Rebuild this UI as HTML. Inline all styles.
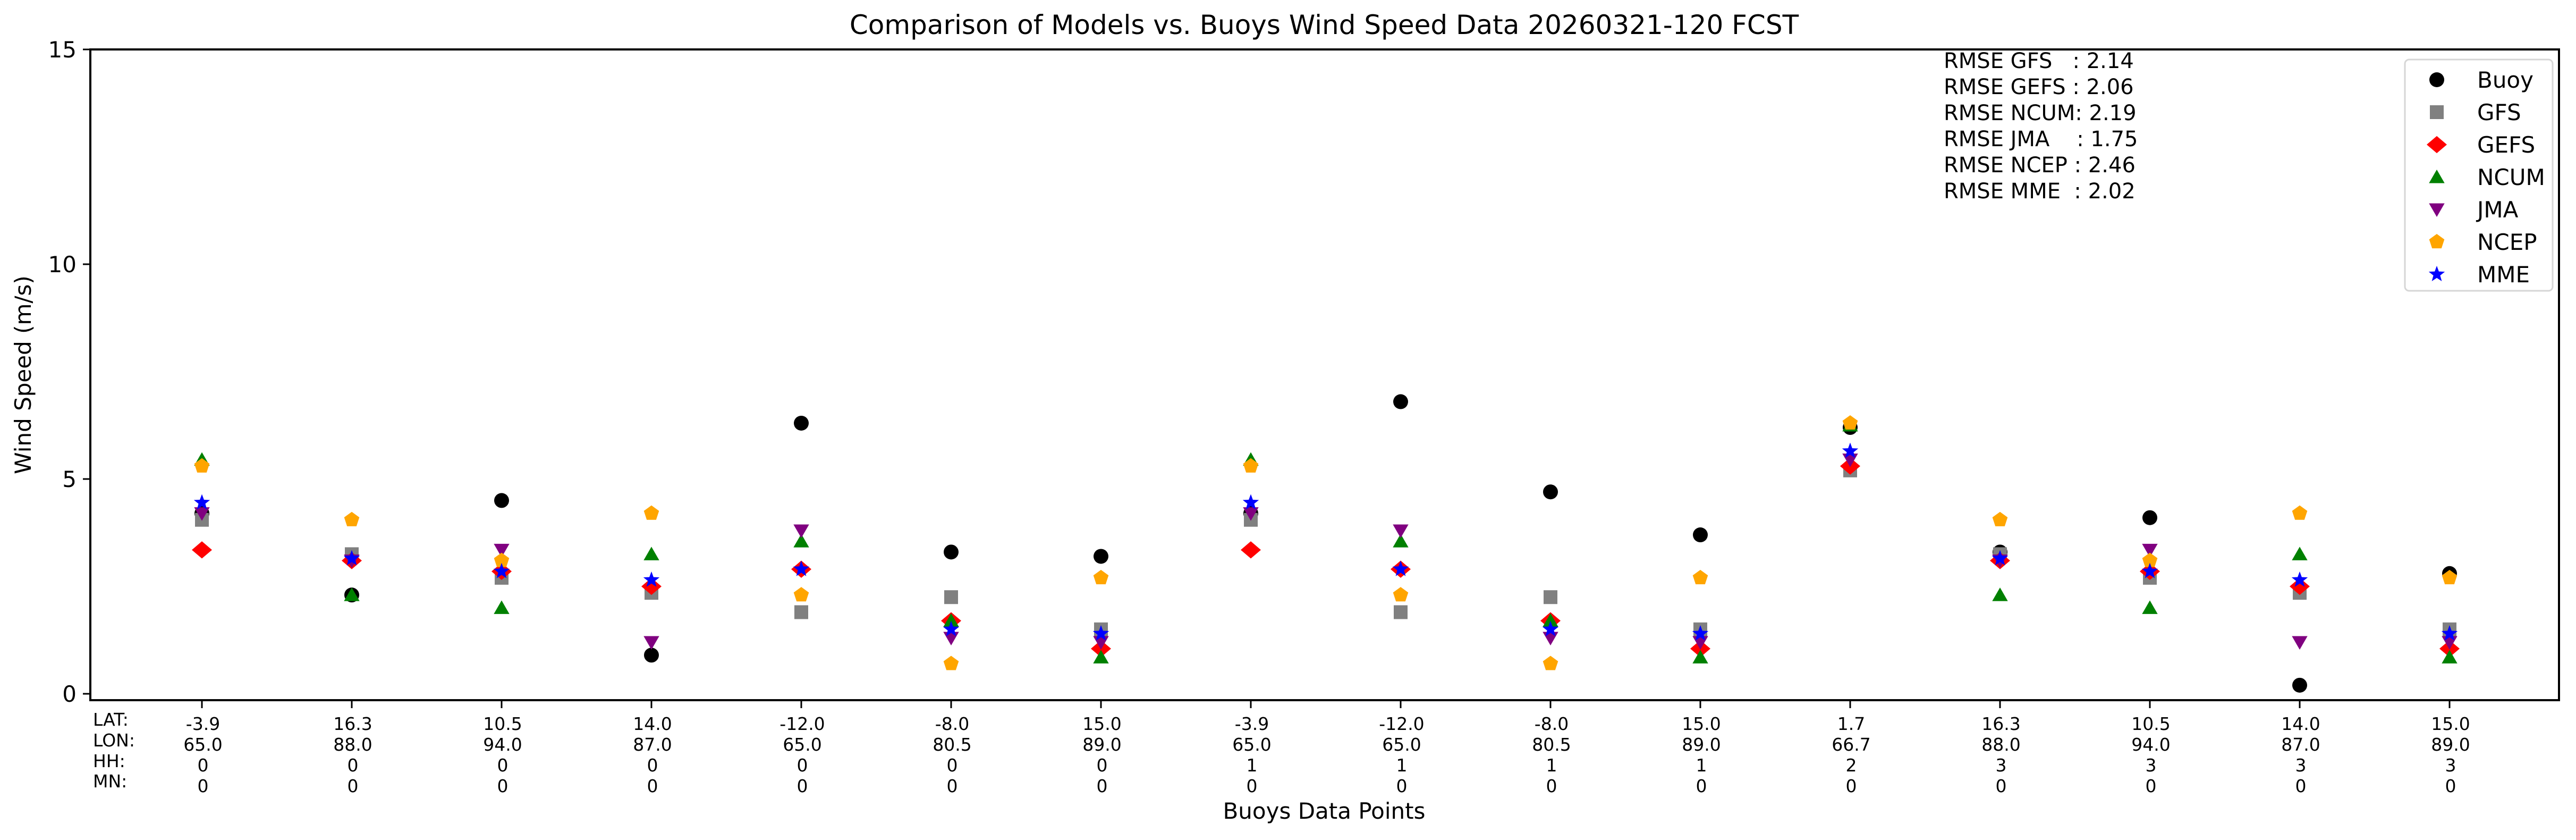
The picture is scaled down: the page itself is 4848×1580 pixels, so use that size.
<!DOCTYPE html>
<html><head><meta charset="utf-8"><style>
html,body{margin:0;padding:0;background:#fff}
svg{display:block}
text{font-family:"DejaVu Sans","Liberation Sans",sans-serif;fill:#000}
</style></head><body>
<svg id="s" width="4848" height="1580" xmlns="http://www.w3.org/2000/svg">
<rect width="4848" height="1580" fill="#fff"/>
<text x="2492" y="64" font-size="50" text-anchor="middle">Comparison of Models vs. Buoys Wind Speed Data 20260321-120 FCST</text>
<g id="marks"></g>
<rect x="170" y="93" width="4646" height="1224" fill="none" stroke="#000" stroke-width="4"/>
<g stroke="#000" stroke-width="3">
<line x1="156" y1="1305" x2="170" y2="1305"/><line x1="156" y1="901" x2="170" y2="901"/>
<line x1="156" y1="497" x2="170" y2="497"/><line x1="156" y1="93" x2="170" y2="93"/>
</g>
<g font-size="42" text-anchor="end">
<text x="144" y="1320">0</text><text x="144" y="916">5</text><text x="144" y="512">10</text><text x="144" y="108">15</text>
</g>
<text transform="translate(58,705) rotate(-90)" font-size="42" text-anchor="middle">Wind Speed (m/s)</text>
<text x="2492" y="1540" font-size="42" text-anchor="middle">Buoys Data Points</text>
<g font-size="33">
<text x="175" y="1365">LAT:</text><text x="175" y="1404">LON:</text><text x="175" y="1443">HH:</text><text x="175" y="1481">MN:</text>
</g>
<g id="ticks" stroke="#000" stroke-width="3"></g>
<g font-size="33" text-anchor="middle">
<text x="382" y="1373">-3.9</text><text x="382" y="1412">65.0</text><text x="382" y="1451">0</text><text x="382" y="1490">0</text>
<text x="664" y="1373">16.3</text><text x="664" y="1412">88.0</text><text x="664" y="1451">0</text><text x="664" y="1490">0</text>
<text x="946" y="1373">10.5</text><text x="946" y="1412">94.0</text><text x="946" y="1451">0</text><text x="946" y="1490">0</text>
<text x="1228" y="1373">14.0</text><text x="1228" y="1412">87.0</text><text x="1228" y="1451">0</text><text x="1228" y="1490">0</text>
<text x="1510" y="1373">-12.0</text><text x="1510" y="1412">65.0</text><text x="1510" y="1451">0</text><text x="1510" y="1490">0</text>
<text x="1792" y="1373">-8.0</text><text x="1792" y="1412">80.5</text><text x="1792" y="1451">0</text><text x="1792" y="1490">0</text>
<text x="2074" y="1373">15.0</text><text x="2074" y="1412">89.0</text><text x="2074" y="1451">0</text><text x="2074" y="1490">0</text>
<text x="2356" y="1373">-3.9</text><text x="2356" y="1412">65.0</text><text x="2356" y="1451">1</text><text x="2356" y="1490">0</text>
<text x="2638" y="1373">-12.0</text><text x="2638" y="1412">65.0</text><text x="2638" y="1451">1</text><text x="2638" y="1490">0</text>
<text x="2920" y="1373">-8.0</text><text x="2920" y="1412">80.5</text><text x="2920" y="1451">1</text><text x="2920" y="1490">0</text>
<text x="3202" y="1373">15.0</text><text x="3202" y="1412">89.0</text><text x="3202" y="1451">1</text><text x="3202" y="1490">0</text>
<text x="3484" y="1373">1.7</text><text x="3484" y="1412">66.7</text><text x="3484" y="1451">2</text><text x="3484" y="1490">0</text>
<text x="3766" y="1373">16.3</text><text x="3766" y="1412">88.0</text><text x="3766" y="1451">3</text><text x="3766" y="1490">0</text>
<text x="4048" y="1373">10.5</text><text x="4048" y="1412">94.0</text><text x="4048" y="1451">3</text><text x="4048" y="1490">0</text>
<text x="4330" y="1373">14.0</text><text x="4330" y="1412">87.0</text><text x="4330" y="1451">3</text><text x="4330" y="1490">0</text>
<text x="4612" y="1373">15.0</text><text x="4612" y="1412">89.0</text><text x="4612" y="1451">3</text><text x="4612" y="1490">0</text>
</g>
<g font-size="40" style="white-space:pre">
<text x="3658" y="128" xml:space="preserve">RMSE GFS   : 2.14</text>
<text x="3658" y="177" xml:space="preserve">RMSE GEFS : 2.06</text>
<text x="3658" y="226" xml:space="preserve">RMSE NCUM: 2.19</text>
<text x="3658" y="275" xml:space="preserve">RMSE JMA    : 1.75</text>
<text x="3658" y="324" xml:space="preserve">RMSE NCEP : 2.46</text>
<text x="3658" y="373" xml:space="preserve">RMSE MME  : 2.02</text>
</g>
<rect x="4526" y="112" width="278" height="435" rx="8" fill="#fff" stroke="#d6d6d6" stroke-width="3"/>
<g id="leg"></g>
<g font-size="42">
<text x="4662" y="165">Buoy</text><text x="4662" y="226">GFS</text><text x="4662" y="287">GEFS</text>
<text x="4662" y="348">NCUM</text><text x="4662" y="409">JMA</text><text x="4662" y="470">NCEP</text><text x="4662" y="531">MME</text>
</g>
</svg>
<script>
var NS="http://www.w3.org/2000/svg";
function el(p,t,a){var e=document.createElementNS(NS,t);for(var k in a)e.setAttribute(k,a[k]);p.appendChild(e);return e;}
function poly(n,r,rot,inner){var pts=[];var m=inner?2*n:n;for(var i=0;i<m;i++){var rr=inner&&i%2?r*inner:r;var a=rot+i*2*Math.PI/m;pts.push((rr*Math.sin(a)).toFixed(1)+","+(-rr*Math.cos(a)).toFixed(1));}return pts.join(" ");}
function mk(g,type,x,y){
 switch(type){
 case 0:el(g,"circle",{cx:x,cy:y,r:14,fill:"#000"});break;
 case 1:el(g,"rect",{x:x-13,y:y-13,width:26,height:26,fill:"#808080"});break;
 case 2:el(g,"polygon",{points:poly(4,19,0).split(" ").map(function(p){var q=p.split(",");return (x+ +q[0]*1.0)+","+(y+ +q[1]*0.85);}).join(" "),fill:"#ff0000"});break;
 case 3:el(g,"polygon",{points:tr(poly(3,17,0),x,y+3),fill:"#008000"});break;
 case 4:el(g,"polygon",{points:tr(poly(3,17,Math.PI),x,y-3),fill:"#800080"});break;
 case 5:el(g,"polygon",{points:tr(poly(5,15,0),x,y),fill:"#ffa500"});break;
 case 6:el(g,"polygon",{points:tr(poly(5,16,0,0.42),x,y),fill:"#0000ff"});break;
 }}
function tr(s,x,y){return s.split(" ").map(function(p){var q=p.split(",");return (x+ +q[0])+","+(y+ +q[1]);}).join(" ");}
var D=[
[4.2,4.05,3.35,5.45,4.2,5.3,4.45],
[2.3,3.25,3.1,2.3,3.1,4.05,3.15],
[4.5,2.7,2.85,2.0,3.35,3.1,2.85],
[0.9,2.35,2.5,3.25,1.2,4.2,2.65],
[6.3,1.9,2.9,3.55,3.8,2.3,2.9],
[3.3,2.25,1.7,1.7,1.3,0.7,1.5],
[3.2,1.5,1.05,0.85,1.2,2.7,1.4],
[4.2,4.05,3.35,5.45,4.2,5.3,4.45],
[6.8,1.9,2.9,3.55,3.8,2.3,2.9],
[4.7,2.25,1.7,1.7,1.3,0.7,1.5],
[3.7,1.5,1.05,0.85,1.2,2.7,1.4],
[6.2,5.2,5.3,6.25,5.45,6.3,5.65],
[3.3,3.25,3.1,2.3,3.1,4.05,3.15],
[4.1,2.7,2.85,2.0,3.35,3.1,2.85],
[0.2,2.35,2.5,3.25,1.2,4.2,2.65],
[2.8,1.5,1.05,0.85,1.2,2.7,1.4]];
var g=document.getElementById("marks"),tk=document.getElementById("ticks");
for(var t=0;t<7;t++)for(var i=0;i<16;i++)mk(g,t,380+282*i,1305-80.8*D[i][t]);
for(var i=0;i<16;i++)el(tk,"line",{x1:380+282*i,y1:1317,x2:380+282*i,y2:1332});
var lg=document.getElementById("leg");
for(var t=0;t<7;t++)mk(lg,t,4586,150+61*t);
</script>
</body></html>
